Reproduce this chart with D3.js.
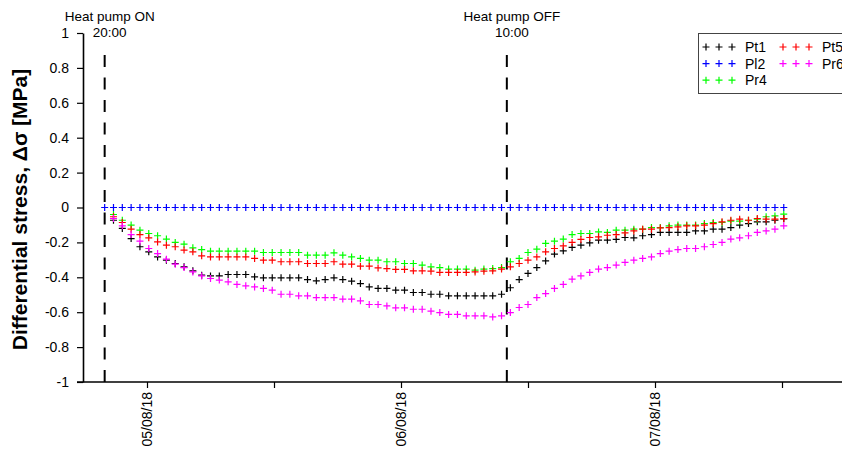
<!DOCTYPE html>
<html>
<head>
<meta charset="utf-8">
<script src="https://cdn.jsdelivr.net/npm/d3@7"></script>
<style>
  html, body { margin: 0; padding: 0; background: #fff; }
  svg { display: block; font-family: "Liberation Sans", Arial, sans-serif; }
</style>
</head>
<body>
<svg id="chart" width="842" height="456"></svg>
<script>
// ---------------- DATA ----------------
const seriesNames = ["Pt1", "Pl2", "Pr4", "Pt5", "Pr6"];
const seriesColors = ["#000000", "#0000ff", "#00ff00", "#ff0000", "#ff00ff"];
const sampleStart = "2018-08-04T20:00:00";
const sampleIntervalMinutes = 50;

const pt1 = [null,
  -0.073,-0.12,-0.178,-0.225,-0.254,-0.283,-0.302,-0.321,-0.34,-0.363,-0.388,-0.392,-0.392,-0.384,-0.384,-0.384,-0.397,-0.403,-0.403,
  -0.403,-0.403,-0.403,-0.413,-0.42,-0.413,-0.403,-0.413,-0.422,-0.436,-0.455,-0.464,-0.464,-0.474,-0.474,-0.487,-0.487,-0.497,-0.497,
  -0.506,-0.506,-0.506,-0.506,-0.506,-0.506,-0.497,-0.46,-0.413,-0.378,-0.344,-0.306,-0.267,-0.248,-0.229,-0.216,-0.203,-0.187,-0.187,-0.183,
  -0.172,-0.174,-0.162,-0.155,-0.143,-0.143,-0.143,-0.143,-0.134,-0.134,-0.124,-0.124,-0.115,-0.101,-0.092,-0.082,-0.082,-0.073,-0.065];
const pl2 = [0,0,0,0,0,0,0,0,0,0,0,0,0,0,0,0,0,0,0,0,0,0,0,0,0,0,0,0,0,0,0,0,0,0,0,0,0,0,0,
  0,0,0,0,0,0,0,0,0,0,0,0,0,0,0,0,0,0,0,0,0,0,0,0,0,0,0,0,0,0,0,0,0,0,0,0,0,0,0];
const pr4 = [null,
  -0.04,-0.073,-0.101,-0.13,-0.149,-0.162,-0.181,-0.2,-0.21,-0.231,-0.241,-0.25,-0.25,-0.25,-0.25,-0.25,-0.25,-0.258,-0.258,
  -0.258,-0.258,-0.258,-0.273,-0.273,-0.273,-0.26,-0.273,-0.283,-0.292,-0.302,-0.302,-0.311,-0.311,-0.321,-0.321,-0.33,-0.34,-0.344,
  -0.353,-0.353,-0.353,-0.359,-0.353,-0.35,-0.344,-0.311,-0.292,-0.258,-0.239,-0.206,-0.193,-0.181,-0.155,-0.149,-0.149,-0.14,-0.143,-0.13,
  -0.13,-0.124,-0.124,-0.115,-0.115,-0.105,-0.101,-0.101,-0.101,-0.092,-0.086,-0.086,-0.078,-0.078,-0.073,-0.067,-0.053,-0.048,-0.038];
const pt5 = [null,
  -0.053,-0.086,-0.124,-0.155,-0.174,-0.197,-0.216,-0.225,-0.244,-0.254,-0.277,-0.283,-0.283,-0.283,-0.283,-0.283,-0.292,-0.302,-0.302,
  -0.311,-0.311,-0.311,-0.321,-0.321,-0.321,-0.311,-0.325,-0.325,-0.336,-0.336,-0.346,-0.35,-0.355,-0.355,-0.363,-0.363,-0.365,-0.372,
  -0.372,-0.372,-0.372,-0.369,-0.365,-0.363,-0.353,-0.34,-0.321,-0.302,-0.283,-0.254,-0.235,-0.22,-0.2,-0.183,-0.172,-0.168,-0.159,-0.155,
  -0.145,-0.134,-0.124,-0.124,-0.117,-0.115,-0.111,-0.105,-0.105,-0.101,-0.092,-0.082,-0.073,-0.067,-0.073,-0.063,-0.067,-0.067,-0.063];
const pr6 = [null,
  -0.063,-0.105,-0.155,-0.193,-0.235,-0.264,-0.296,-0.325,-0.344,-0.369,-0.392,-0.407,-0.416,-0.426,-0.441,-0.449,-0.455,-0.464,-0.474,
  -0.497,-0.497,-0.506,-0.506,-0.516,-0.516,-0.516,-0.525,-0.525,-0.535,-0.556,-0.556,-0.564,-0.575,-0.575,-0.583,-0.583,-0.594,-0.602,
  -0.613,-0.613,-0.621,-0.621,-0.621,-0.627,-0.621,-0.602,-0.573,-0.556,-0.516,-0.493,-0.464,-0.441,-0.411,-0.392,-0.372,-0.353,-0.344,-0.33,
  -0.315,-0.302,-0.292,-0.283,-0.264,-0.25,-0.241,-0.235,-0.235,-0.225,-0.212,-0.2,-0.181,-0.174,-0.162,-0.143,-0.134,-0.124,-0.105];

const eventTimes = ["2018-08-04T20:00:00", "2018-08-06T10:00:00"];
const eventLabels = ["Heat pump ON", "Heat pump OFF"];
const eventTimeLabels = ["20:00", "10:00"];
const yTickValues = [-1, -0.8, -0.6, -0.4, -0.2, 0, 0.2, 0.4, 0.6, 0.8, 1];
const yTitle = "Differential stress, \u0394\u03c3 [MPa]";
const xDomain = ["2018-08-04T18:00:00", "2018-08-07T18:00:00"];

// ---------------- LAYOUT ----------------
const svg = d3.select("#chart");
const axisX = 83, axisBottomY = 382, axisTopY = 33;

const parse = d3.timeParse("%Y-%m-%dT%H:%M:%S");
const x = d3.scaleTime().domain(xDomain.map(parse)).range([83.5, 845.5]);
const y = d3.scaleLinear().domain([-1, 1]).range([axisBottomY, axisTopY]);

const t0 = parse(sampleStart);
const times = pl2.map((_, i) => d3.timeMinute.offset(t0, i * sampleIntervalMinutes));
const allSeries = [pt1, pl2, pr4, pt5, pr6];

// Y axis
const yAxis = d3.axisLeft(y).tickValues(yTickValues).tickSize(6).tickSizeOuter(0).tickPadding(8)
  .tickFormat(d => Math.abs(d) < 1e-9 ? "0" : String(+d.toFixed(1)));
const gy = svg.append("g").attr("transform", `translate(${axisX},0)`).call(yAxis);
gy.select(".domain").attr("stroke", "#000").attr("stroke-width", 1.6);
gy.selectAll(".tick line").attr("stroke", "#000").attr("stroke-width", 1.2);
gy.selectAll(".tick text").attr("fill", "#000").style("font-size", "14px")
  .style("font-family", "'Liberation Sans', Arial, sans-serif");

// X axis
const xTicks = d3.timeHour.every(12).range(x.domain()[0], x.domain()[1]);
const fmt = d3.timeFormat("%d/%m/%y");
const xAxis = d3.axisBottom(x).tickValues(xTicks).tickSize(6).tickSizeOuter(0)
  .tickFormat(d => d.getHours() === 0 ? fmt(d) : "");
const gx = svg.append("g").attr("transform", `translate(0,${axisBottomY})`).call(xAxis);
gx.select(".domain").attr("stroke", "#000").attr("stroke-width", 1.6)
  .attr("d", `M${axisX - 6},0H842`);
gx.selectAll(".tick line").attr("stroke", "#000").attr("stroke-width", 1.2);
gx.selectAll(".tick text").attr("fill", "#000").style("font-size", "14px")
  .style("font-family", "'Liberation Sans', Arial, sans-serif")
  .attr("transform", "rotate(-90)")
  .attr("text-anchor", "end")
  .attr("x", -10).attr("y", 0).attr("dy", "0.35em");

// Y title
svg.append("text")
  .attr("transform", `translate(27,${(axisTopY + axisBottomY) / 2 + 2}) rotate(-90)`)
  .attr("text-anchor", "middle")
  .style("font-size", "21px").style("font-weight", "bold")
  .text(yTitle);

// Event dashed lines and labels
eventTimes.forEach((t, k) => {
  const ex = x(parse(t));
  svg.append("line")
    .attr("x1", ex).attr("x2", ex).attr("y1", axisBottomY).attr("y2", 45)
    .attr("stroke", "#000").attr("stroke-width", 2).attr("stroke-dasharray", "12,10.5");
  svg.append("text").attr("x", ex + 5).attr("y", 21).attr("text-anchor", "middle")
    .style("font-size", "13.5px").text(eventLabels[k]);
  svg.append("text").attr("x", ex + 5).attr("y", 37).attr("text-anchor", "middle")
    .style("font-size", "13.5px").text(eventTimeLabels[k]);
});

// Markers
const plus = "M-3.5,0H3.5M0,-3.5V3.5";
allSeries.forEach((vals, s) => {
  const pts = vals.map((v, i) => ({ t: times[i], v })).filter(d => d.v !== null);
  svg.append("g").selectAll("path").data(pts).join("path")
    .attr("transform", d => `translate(${x(d.t)},${y(d.v)})`)
    .attr("d", plus)
    .attr("fill", "none")
    .attr("stroke", seriesColors[s])
    .attr("stroke-width", 1.2);
});

// Legend
const lg = svg.append("g");
lg.append("rect").attr("x", 698.5).attr("y", 33.5).attr("width", 160).attr("height", 60)
  .attr("fill", "#fff").attr("stroke", "#444").attr("stroke-width", 1);
seriesNames.forEach((name, s) => {
  const col = s < 3 ? 0 : 1;
  const row = s < 3 ? s : s - 3;
  const bx = 706 + col * 77;
  const by = 47 + row * 16.6;
  [0, 1, 2].forEach(j => {
    lg.append("path").attr("d", plus)
      .attr("transform", `translate(${bx + j * 13},${by})`)
      .attr("fill", "none").attr("stroke", seriesColors[s]).attr("stroke-width", 1.2);
  });
  lg.append("text").attr("x", bx + 39).attr("y", by).attr("dy", "0.35em")
    .style("font-size", "14px").text(name);
});
</script>
</body>
</html>
